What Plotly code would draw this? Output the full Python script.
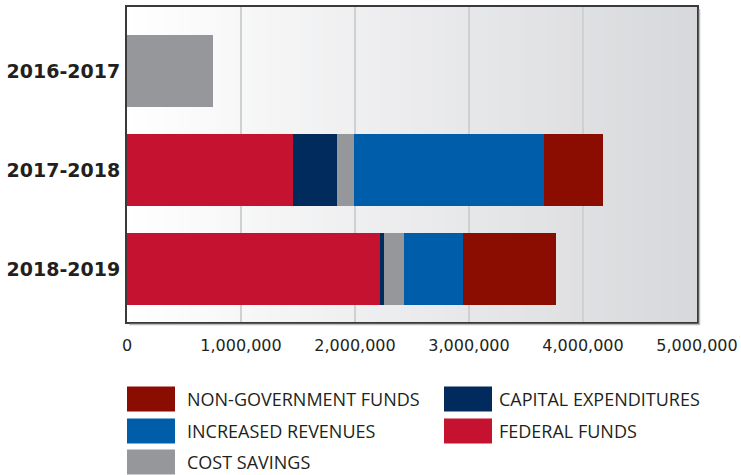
import plotly.graph_objects as go

# ---- data ----
periods = ["2018-2019", "2017-2018", "2016-2017"]  # bottom to top
federal_funds = [2220000, 1460000, 0]
capital_expenditures = [37000, 386000, 0]
cost_savings = [175000, 141000, 752000]
increased_revenues = [517000, 1674000, 0]
non_government_funds = [815000, 517000, 0]

series_names = ["FEDERAL FUNDS", "CAPITAL EXPENDITURES", "COST SAVINGS",
                "INCREASED REVENUES", "NON-GOVERNMENT FUNDS"]
series_values = [federal_funds, capital_expenditures, cost_savings,
                 increased_revenues, non_government_funds]
series_colors = ["#C41230", "#002B5C", "#96979B", "#005DAA", "#8B0C00"]

x_tick_values = [0, 1000000, 2000000, 3000000, 4000000, 5000000]
x_tick_labels = ["0", "1,000,000", "2,000,000", "3,000,000", "4,000,000", "5,000,000"]

# legend layout: rows (left column, right column)
legend_rows = [["NON-GOVERNMENT FUNDS", "CAPITAL EXPENDITURES"],
               ["INCREASED REVENUES", "FEDERAL FUNDS"],
               ["COST SAVINGS", None]]

W, H = 741, 475
ML, MR, MT, MB = 127, 44, 7, 153
PW, PH = W - ML - MR, H - MT - MB

fig = go.Figure()
for name, vals, col in zip(series_names, series_values, series_colors):
    fig.add_trace(go.Bar(y=periods, x=vals, name=name, orientation="h",
                         marker=dict(color=col, line=dict(width=0)),
                         showlegend=False))

# background gradient (white -> light gray)
shapes = []
N = 90
c0 = (255, 255, 255)
c1 = (215, 216, 219)
for i in range(N):
    t = (i + 0.5) / N
    c = tuple(round(a + (b - a) * t) for a, b in zip(c0, c1))
    shapes.append(dict(type="rect", xref="x domain", yref="y domain",
                       x0=i / N, x1=(i + 1) / N + 0.002, y0=0, y1=1,
                       fillcolor="rgb(%d,%d,%d)" % c, line=dict(width=0),
                       layer="below"))

# subtle frame shadow (right and bottom)
shapes.append(dict(type="line", xref="paper", yref="paper",
                   x0=1 + 2.5 / PW, x1=1 + 2.5 / PW, y0=-3 / PH, y1=1 - 2 / PH,
                   line=dict(color="#BDBDBD", width=1.5)))
shapes.append(dict(type="line", xref="paper", yref="paper",
                   x0=2 / PW, x1=1 + 3 / PW, y0=-2.5 / PH, y1=-2.5 / PH,
                   line=dict(color="#BDBDBD", width=1.5)))

# manual legend
def px(xp):
    return (xp - ML) / PW

def py(yp):
    return (H - MB - yp) / PH

color_of = dict(zip(series_names, series_colors))
annotations = []
col_x = [(127, 175, 185), (444, 492, 497)]
row_y = [399, 431, 462]
for r, row in enumerate(legend_rows):
    for c, name in enumerate(row):
        if name is None:
            continue
        sx0, sx1, tx = col_x[c]
        cy = row_y[r]
        shapes.append(dict(type="rect", xref="paper", yref="paper",
                           x0=px(sx0), x1=px(sx1), y0=py(cy + 12.5), y1=py(cy - 12.5),
                           fillcolor=color_of[name], line=dict(width=0)))
        annotations.append(dict(xref="paper", yref="paper", x=px(tx), y=py(cy),
                                xanchor="left", yanchor="middle", showarrow=False,
                                text=name,
                                font=dict(family="Open Sans", size=18, color="#231F20")))

fig.update_layout(
    width=W, height=H, autosize=False,
    margin=dict(l=ML, r=MR, t=MT, b=MB, pad=0),
    barmode="stack", bargap=0.273,
    paper_bgcolor="white", plot_bgcolor="rgba(0,0,0,0)",
    shapes=shapes, annotations=annotations,
    xaxis=dict(range=[0, 5000000], tickvals=x_tick_values, ticktext=x_tick_labels,
               automargin=False,
               showgrid=True, gridcolor="#CFD0D2", gridwidth=1.5, zeroline=False,
               showline=True, mirror=True, linecolor="#3A3A3A", linewidth=2,
               ticks="", ticklabelstandoff=8,
               tickfont=dict(family="DejaVu Sans", size=16, color="#231F20")),
    yaxis=dict(range=[-0.535, 2.646], showgrid=False, zeroline=False,
               automargin=False,
               showline=True, mirror=True, linecolor="#3A3A3A", linewidth=2,
               ticks="", ticklabelstandoff=1,
               tickfont=dict(family="DejaVu Sans", size=19, color="#231F20",
                             weight="bold")),
)

fig.write_html("out.html")
